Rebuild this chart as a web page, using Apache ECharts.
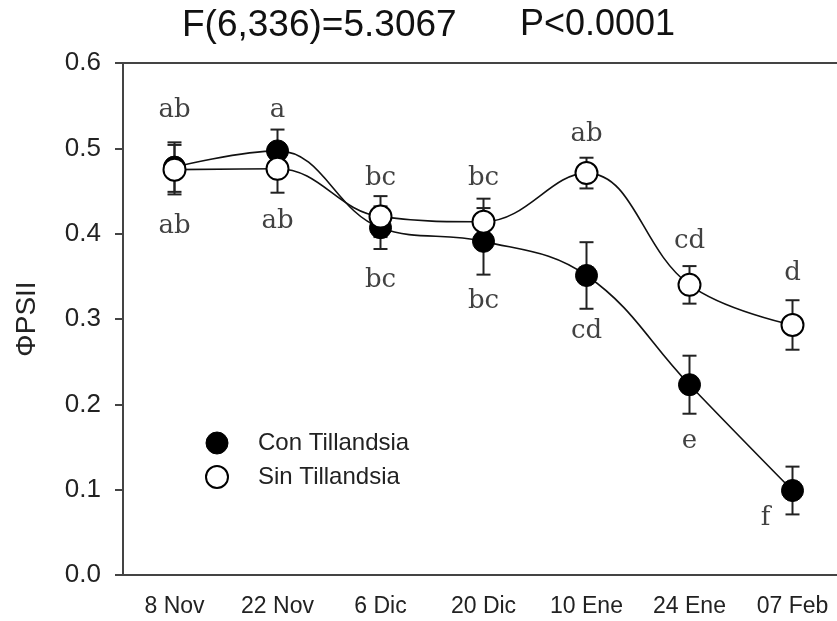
<!DOCTYPE html>
<html>
<head>
<meta charset="utf-8">
<script src="https://cdn.jsdelivr.net/npm/echarts@6/dist/echarts.min.js"></script>
<style>html,body{margin:0;padding:0;background:#fff;}#c{width:837px;height:621px;}</style>
</head>
<body>
<div id="c"></div>
<script>
const categories = ['8 Nov', '22 Nov', '6 Dic', '20 Dic', '10 Ene', '24 Ene', '07 Feb'];
const conMean = [0.478, 0.497, 0.407, 0.391, 0.351, 0.223, 0.099];
const conErr  = [0.029, 0.025, 0.025, 0.039, 0.039, 0.034, 0.028];
const sinMean = [0.475, 0.476, 0.420, 0.414, 0.471, 0.340, 0.293];
const sinErr  = [0.029, 0.028, 0.024, 0.027, 0.018, 0.022, 0.029];
const topLetters = ['ab', 'a', 'bc', 'bc', 'ab', 'cd', 'd'];
const topLetterY = [0.545, 0.545, 0.465, 0.465, 0.517, 0.391, 0.354];
const bottomLetters = ['ab', 'ab', 'bc', 'bc', 'cd', 'e', 'f'];
const bottomLetterY = [0.409, 0.414, 0.345, 0.321, 0.286, 0.157, 0.066];
const yTicks = [0, 0.1, 0.2, 0.3, 0.4, 0.5, 0.6];
const titleLeft = 'F(6,336)=5.3067';
const titleRight = 'P<0.0001';

const chart = echarts.init(document.getElementById('c'), null, {renderer: 'canvas'});

function errSeries(mean, err, z) {
  return {
    type: 'custom',
    z: z,
    silent: true,
    data: mean.map((m, i) => [i, m - err[i], m + err[i]]),
    renderItem: function (params, api) {
      const x = api.value(0);
      const lo = api.coord([x, api.value(1)]);
      const hi = api.coord([x, api.value(2)]);
      const hw = 7;
      const st = {stroke: '#222', lineWidth: 2};
      return {
        type: 'group',
        children: [
          {type: 'line', shape: {x1: lo[0], y1: lo[1], x2: hi[0], y2: hi[1]}, style: st},
          {type: 'line', shape: {x1: lo[0] - hw, y1: lo[1], x2: lo[0] + hw, y2: lo[1]}, style: st},
          {type: 'line', shape: {x1: hi[0] - hw, y1: hi[1], x2: hi[0] + hw, y2: hi[1]}, style: st}
        ]
      };
    }
  };
}

function letterSeries(letters, ys) {
  return {
    type: 'scatter',
    symbolSize: 1,
    itemStyle: {color: 'rgba(0,0,0,0)'},
    silent: true,
    z: 10,
    data: letters.map((t, i) => ({
      value: [i, ys[i]],
      name: t,
      label: (t === 'f') ? {offset: [-27, 0]} : undefined
    })),
    label: {
      show: true,
      position: 'inside',
      formatter: p => p.name,
      fontFamily: 'DejaVu Serif',
      fontSize: 26,
      color: '#111'
    }
  };
}

const option = {
  backgroundColor: '#fff',
  animation: false,
  graphic: [
    {type: 'text', left: 182, top: 7, style: {text: titleLeft, font: '37px "Liberation Sans", Arial', fill: '#111'}},
    {type: 'text', left: 520, top: 7, style: {text: titleRight, font: '36px "Liberation Sans", Arial', fill: '#111'}}
  ],
  legend: {
    orient: 'vertical',
    left: 205,
    top: 431,
    padding: 0,
    itemWidth: 22,
    itemHeight: 22,
    itemGap: 10,
    selectedMode: false,
    textStyle: {fontFamily: 'Liberation Sans', fontSize: 24, color: '#222', padding: [0, 0, 0, 25], lineHeight: 22},
    data: [
      {name: 'Con Tillandsia', icon: 'circle', itemStyle: {color: '#000', borderColor: '#000', borderWidth: 1}},
      {name: 'Sin Tillandsia', icon: 'circle', itemStyle: {color: '#fff', borderColor: '#000', borderWidth: 2}}
    ]
  },
  grid: {
    left: 123, top: 63, width: 721, height: 512,
    outerBoundsMode: 'none',
    containLabel: false,
    show: true, borderColor: '#444', borderWidth: 2, backgroundColor: '#fff'
  },
  xAxis: {
    type: 'category',
    data: categories,
    boundaryGap: true,
    axisLine: {lineStyle: {color: '#444', width: 2}},
    axisTick: {alignWithLabel: true, length: 7, lineStyle: {color: '#444', width: 2}},
    axisLabel: {fontFamily: 'Liberation Sans', fontSize: 23, color: '#222', margin: 20, interval: 0},
    splitLine: {show: false}
  },
  yAxis: {
    type: 'value',
    min: yTicks[0],
    max: yTicks[yTicks.length - 1],
    interval: 0.1,
    name: 'ΦPSII',
    nameLocation: 'middle',
    nameGap: 82,
    nameTextStyle: {fontFamily: 'Liberation Sans', fontSize: 28, color: '#222'},
    axisLine: {show: true, lineStyle: {color: '#444', width: 2}},
    axisTick: {show: true, length: 8, lineStyle: {color: '#444', width: 2}},
    axisLabel: {fontFamily: 'Liberation Sans', fontSize: 26, color: '#222', margin: 22, formatter: v => v.toFixed(1)},
    splitLine: {show: false}
  },
  series: [
    errSeries(conMean, conErr, 2),
    errSeries(sinMean, sinErr, 3),
    {
      name: 'Con Tillandsia',
      type: 'line',
      z: 4,
      smooth: 0.4,
      data: conMean,
      symbol: 'circle',
      symbolSize: 22,
      showAllSymbol: true,
      lineStyle: {color: '#111', width: 1.6},
      itemStyle: {color: '#000', borderColor: '#000', borderWidth: 1}
    },
    {
      name: 'Sin Tillandsia',
      type: 'line',
      z: 5,
      smooth: 0.4,
      data: sinMean,
      symbol: 'circle',
      symbolSize: 22,
      showAllSymbol: true,
      lineStyle: {color: '#111', width: 1.6},
      itemStyle: {color: '#fff', borderColor: '#000', borderWidth: 2}
    },
    letterSeries(topLetters, topLetterY),
    letterSeries(bottomLetters, bottomLetterY)
  ]
};
chart.setOption(option);
</script>
</body>
</html>
